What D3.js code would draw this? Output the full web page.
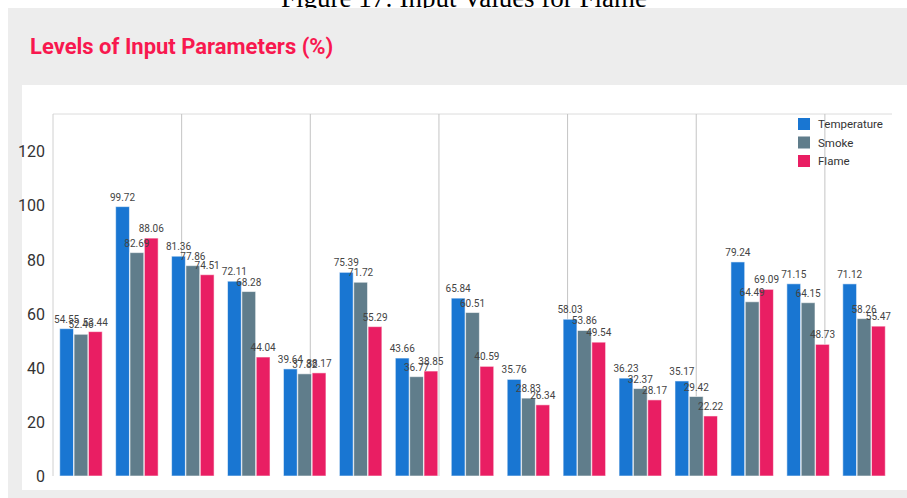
<!DOCTYPE html>
<html>
<head>
<meta charset="utf-8">
<script src="https://cdn.jsdelivr.net/npm/d3@7"></script>
<style>
  body { margin: 0; background: #fff; }
  svg { display: block; }
</style>
</head>
<body>
<div id="canvas"></div>
<script>
var width = 907,
	height = 498;

// data
var groups = ["1","2","3","4","5","6","7","8","9","10","11","12","13","14","15"];
var seriesNames = ["Temperature", "Smoke", "Flame"];
var temperature = [54.55, 99.72, 81.36, 72.11, 39.64, 75.39, 43.66, 65.84, 35.76, 58.03, 36.23, 35.17, 79.24, 71.15, 71.12];
var smoke = [52.46, 82.69, 77.86, 68.28, 37.82, 71.72, 36.77, 60.51, 28.83, 53.86, 32.37, 29.42, 64.49, 64.15, 58.26];
var flame = [53.44, 88.06, 74.51, 44.04, 38.17, 55.29, 38.85, 40.59, 26.34, 49.54, 28.17, 22.22, 69.09, 48.73, 55.47];
var yTicks = [0, 20, 40, 60, 80, 100, 120];
var xGrid = [2.3, 4.6, 6.9, 9.2, 11.5, 13.8];

var colors = ["#1976d2", "#607d8b", "#e91e63"];
var values = [temperature, smoke, flame];

var rows = groups.map(function(g, i){
	return seriesNames.map(function(s, j){
		return {group: g, series: s, value: values[j][i]};
	});
});

var svg = d3.select("#canvas").append("svg")
	.attr("width", width)
	.attr("height", height);

// caption cut off at the top
svg.append("text")
	.attr("x", 464)
	.attr("y", 7)
	.attr("text-anchor", "middle")
	.style("font-family", "Liberation Serif, Times New Roman, serif")
	.style("font-size", "27px")
	.style("fill", "#000")
	.text("Figure 17: Input Values for Flame");

// gray panel + white card
svg.append("rect")
	.attr("x", 8).attr("y", 8)
	.attr("width", width - 8).attr("height", height - 8)
	.style("fill", "#ededed");

svg.append("text")
	.attr("x", 30)
	.attr("y", 54)
	.style("font-family", "Roboto, sans-serif")
	.style("font-weight", "bold")
	.style("font-size", "22px")
	.style("fill", "#f8184f")
	.text("Levels of Input Parameters (%)");

svg.append("rect")
	.attr("x", 22).attr("y", 85)
	.attr("width", width - 22).attr("height", 405)
	.style("fill", "#fff");

var plotLeft = 53, plotRight = 892, plotTop = 114, plotBottom = 476;

var x0 = d3.scaleBand()
	.domain(groups)
	.range([plotLeft, plotRight])
	.paddingInner(0.22)
	.paddingOuter(0.11);

var x1 = d3.scaleBand()
	.domain(seriesNames)
	.range([0, x0.bandwidth()])
	.padding(0.04);

var xLin = d3.scaleLinear()
	.domain([0, groups.length])
	.range([plotLeft, plotRight]);

var y = d3.scaleLinear()
	.domain([0, 134])
	.range([plotBottom, plotTop]);

var color = d3.scaleOrdinal()
	.domain(seriesNames)
	.range(colors);

// frame lines
svg.append("line")
	.attr("x1", plotLeft).attr("x2", plotRight)
	.attr("y1", plotTop).attr("y2", plotTop)
	.style("stroke", "#dcdcdc");

svg.selectAll(".vgrid")
	.data(xGrid)
	.enter().append("line")
	.classed("vgrid", true)
	.attr("x1", function(d){ return xLin(d); })
	.attr("x2", function(d){ return xLin(d); })
	.attr("y1", plotTop).attr("y2", plotBottom)
	.style("stroke", "#c4c4c4");

var yAxis = svg.append("g")
	.attr("transform", "translate(" + plotLeft + ",0)")
	.call(d3.axisLeft(y).tickValues(yTicks).tickSize(0).tickPadding(8));

yAxis.select(".domain").style("stroke", "#d0d0d0").attr("d", "M0," + plotTop + "V" + plotBottom);
yAxis.selectAll("text")
	.style("font-family", "Roboto, sans-serif")
	.style("font-size", "16px")
	.style("fill", "#333");

// bars
var group = svg.selectAll(".group")
	.data(rows)
	.enter().append("g")
	.classed("group", true)
	.attr("transform", function(d, i){ return "translate(" + x0(groups[i]) + ",0)"; });

group.selectAll("rect")
	.data(function(d){ return d; })
	.enter().append("rect")
	.attr("x", function(d){ return x1(d.series); })
	.attr("y", function(d){ return y(d.value); })
	.attr("width", x1.bandwidth())
	.attr("height", function(d){ return y(0) - y(d.value); })
	.style("fill", function(d){ return color(d.series); })
	.style("stroke", "rgba(255,255,255,0.55)")
	.style("stroke-width", 1);

group.selectAll("text")
	.data(function(d){ return d; })
	.enter().append("text")
	.attr("x", function(d){ return x1(d.series) + x1.bandwidth() / 2; })
	.attr("y", function(d){ return y(d.value) - 6; })
	.attr("text-anchor", "middle")
	.style("font-family", "Roboto, sans-serif")
	.style("font-size", "10px")
	.style("fill", "#444")
	.text(function(d){ return d.value.toFixed(2); });

// legend
var legend = svg.selectAll(".legend")
	.data(seriesNames)
	.enter().append("g")
	.classed("legend", true)
	.attr("transform", function(d, i){ return "translate(798," + (118 + i * 18.5) + ")"; });

legend.append("rect")
	.attr("width", 12).attr("height", 12)
	.style("fill", function(d){ return color(d); });

legend.append("text")
	.attr("x", 20)
	.attr("y", 10)
	.style("font-family", "Roboto, sans-serif")
	.style("font-size", "11.5px")
	.style("fill", "#333")
	.text(function(d){ return d; });
</script>
</body>
</html>
